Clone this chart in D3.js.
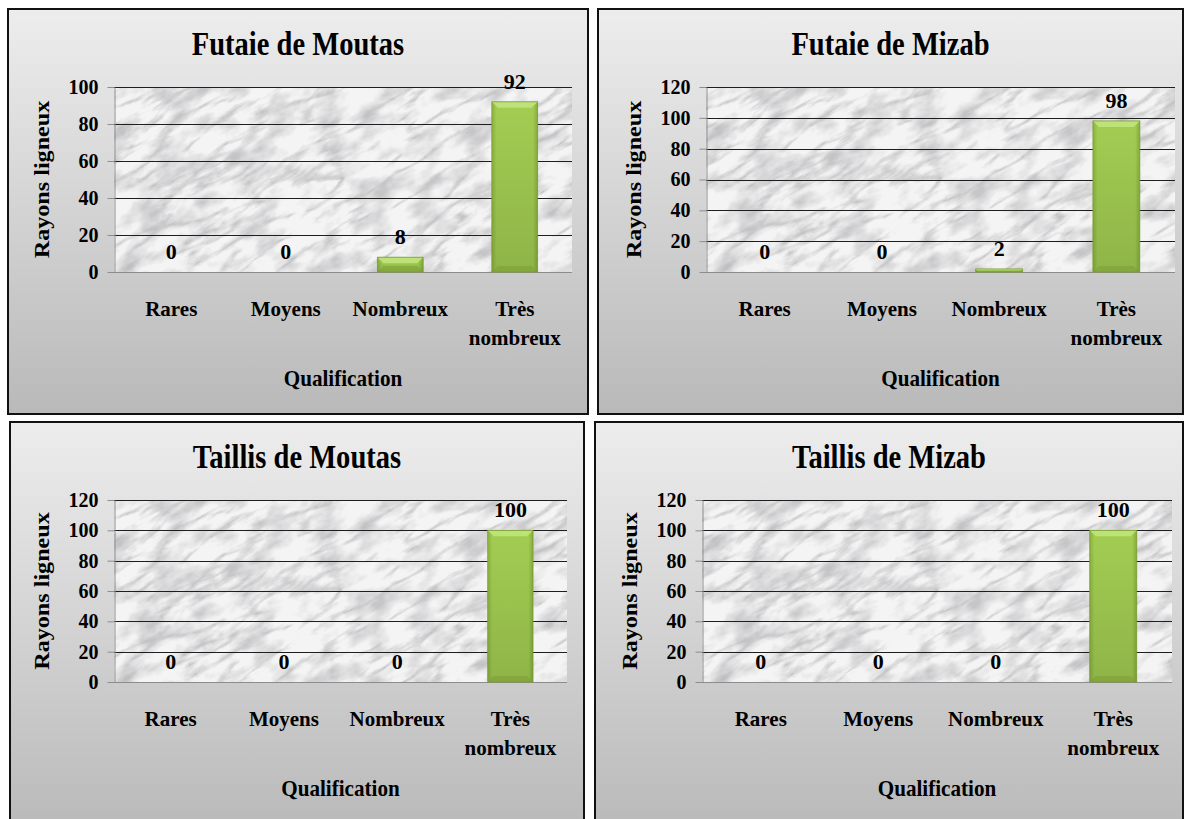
<!DOCTYPE html>
<html>
<head>
<meta charset="utf-8">
<script src="https://cdn.jsdelivr.net/npm/d3@7"></script>
<style>
  html, body { margin: 0; padding: 0; background: #fff; }
  svg { display: block; }
  text { font-family: "Liberation Serif", "Times New Roman", serif; font-weight: bold; fill: #000; }
</style>
</head>
<body>
<div id="chart"></div>
<script>
// --- data ---
const categories = ['Rares', 'Moyens', 'Nombreux', 'Très nombreux'];
const titles = ['Futaie de Moutas', 'Futaie de Mizab', 'Taillis de Moutas', 'Taillis de Mizab'];
const futaieMoutas = [0, 0, 8, 92];
const futaieMizab = [0, 0, 2, 98];
const taillisMoutas = [0, 0, 0, 100];
const taillisMizab = [0, 0, 0, 100];
const yMaxes = [100, 120, 120, 120];
const yStep = 20;
const yTitle = 'Rayons ligneux';
const xTitle = 'Qualification';

const W = 1186, H = 819;

// layout of the four panels (box = frame, plot = inner area)
const panels = [
  { box: [8, 9, 580, 405],    plot: { left: 114, right: 572, top: 87, bottom: 272 },  values: futaieMoutas },
  { box: [598, 9, 585, 405],  plot: { left: 706, right: 1175, top: 87, bottom: 272 }, values: futaieMizab },
  { box: [10, 422, 574, 410], plot: { left: 114, right: 567, top: 500, bottom: 682 }, values: taillisMoutas },
  { box: [595, 422, 588, 410],plot: { left: 702, right: 1172, top: 500, bottom: 682 }, values: taillisMizab }
];

const svg = d3.select('#chart').append('svg').attr('width', W).attr('height', H);
const defs = svg.append('defs');

// panel background
const bg = defs.append('linearGradient').attr('id', 'panelBg')
  .attr('x1', 0).attr('y1', 0).attr('x2', 0).attr('y2', 1);
bg.append('stop').attr('offset', '0%').attr('stop-color', '#ededed');
bg.append('stop').attr('offset', '100%').attr('stop-color', '#b9b9b9');

// bar gradients
const barGrad = defs.append('linearGradient').attr('id', 'barGrad')
  .attr('x1', 0).attr('y1', 0).attr('x2', 1).attr('y2', 0);
[['0%', '#8bb23e'], ['10%', '#a2cd52'], ['90%', '#a2cd52'], ['100%', '#86ad3b']].forEach(s => {
  barGrad.append('stop').attr('offset', s[0]).attr('stop-color', s[1]);
});
const barShade = defs.append('linearGradient').attr('id', 'barShade')
  .attr('x1', 0).attr('y1', 0).attr('x2', 0).attr('y2', 1);
barShade.append('stop').attr('offset', '0%').attr('stop-color', '#000').attr('stop-opacity', 0);
barShade.append('stop').attr('offset', '100%').attr('stop-color', '#000').attr('stop-opacity', 0.12);

// marble texture: soft grey clouds + thin veins
const mf = defs.append('filter').attr('id', 'marble')
  .attr('x', 0).attr('y', 0).attr('width', 1).attr('height', 1);
mf.append('feTurbulence').attr('type', 'fractalNoise')
  .attr('baseFrequency', '0.025 0.05').attr('numOctaves', 4).attr('seed', 3).attr('result', 'n1');
mf.append('feColorMatrix').attr('in', 'n1').attr('type', 'matrix')
  .attr('values', '0 0 0 0 0.5  0 0 0 0 0.5  0 0 0 0 0.52  2.6 0 0 0 -1.15').attr('result', 'clouds');
mf.append('feTurbulence').attr('type', 'turbulence')
  .attr('baseFrequency', '0.012 0.045').attr('numOctaves', 5).attr('seed', 11).attr('result', 'n2');
mf.append('feColorMatrix').attr('in', 'n2').attr('type', 'matrix')
  .attr('values', '0 0 0 0 0.42  0 0 0 0 0.42  0 0 0 0 0.44  -3.4 0 0 0 0.9').attr('result', 'veins');
const mm = mf.append('feMerge');
mm.append('feMergeNode').attr('in', 'clouds');
mm.append('feMergeNode').attr('in', 'veins');

function drawPanel(p, i) {
  const [bx, by, bw, bh] = p.box;
  const { left, right, top, bottom } = p.plot;
  const yMax = yMaxes[i];
  const g = svg.append('g');

  g.append('rect')
    .attr('x', bx).attr('y', by).attr('width', bw).attr('height', bh)
    .attr('fill', 'url(#panelBg)').attr('stroke', '#111').attr('stroke-width', 2);

  const x = d3.scaleBand().domain(categories).range([left, right])
    .paddingInner(0.6).paddingOuter(0.3);
  const y = d3.scaleLinear().domain([0, yMax]).range([bottom, top]);
  const ticks = d3.range(0, yMax + 1, yStep);

  // plot area (marble)
  defs.append('clipPath').attr('id', 'clip' + i)
    .append('rect').attr('x', left).attr('y', top).attr('width', right - left).attr('height', bottom - top);
  const area = g.append('g').attr('clip-path', `url(#clip${i})`);
  area.append('rect').attr('x', left).attr('y', top).attr('width', right - left).attr('height', bottom - top)
    .attr('fill', '#f4f4f4');
  area.append('g')
    .attr('transform', `translate(${(left + right) / 2},${(top + bottom) / 2}) rotate(-30)`)
    .append('rect').attr('x', -420).attr('y', -320).attr('width', 840).attr('height', 640)
    .attr('filter', 'url(#marble)').attr('opacity', 0.82);

  // gridlines
  g.append('g').selectAll('line').data(ticks.filter(t => t > 0)).join('line')
    .attr('x1', left).attr('x2', right)
    .attr('y1', d => Math.round(y(d)) + 0.5).attr('y2', d => Math.round(y(d)) + 0.5)
    .attr('stroke', '#1e1e1e').attr('stroke-width', 1);
  g.append('line')
    .attr('x1', left).attr('x2', right)
    .attr('y1', Math.round(y(0)) + 0.5).attr('y2', Math.round(y(0)) + 0.5)
    .attr('stroke', '#8c8c8c');

  // y axis
  const ax = g.append('g').attr('transform', `translate(${left + 0.5},0)`)
    .call(d3.axisLeft(y).tickValues(ticks).tickSize(7).tickSizeOuter(0).tickPadding(9));
  ax.select('.domain').attr('stroke', '#8c8c8c');
  ax.selectAll('.tick line').attr('stroke', '#8c8c8c');
  ax.selectAll('.tick text')
    .style('font-family', '"Liberation Serif", "Times New Roman", serif')
    .style('font-weight', 'bold').style('font-size', '20px').attr('fill', '#000');

  // bars
  const rows = categories.map((c, k) => ({ cat: c, v: p.values[k] }));
  rows.filter(d => d.v > 0).forEach(d => {
    const x0 = x(d.cat), w = x.bandwidth();
    const y0 = y(d.v), y1 = y(0), h = y1 - y0;
    const b = Math.min(6, h / 2, w / 4);
    const bar = g.append('g');
    bar.append('rect').attr('x', x0).attr('y', y0).attr('width', w).attr('height', h)
      .attr('fill', 'url(#barGrad)');
    bar.append('rect').attr('x', x0).attr('y', y0).attr('width', w).attr('height', h)
      .attr('fill', 'url(#barShade)');
    bar.append('polygon')
      .attr('points', [[x0, y0], [x0 + w, y0], [x0 + w - b, y0 + b], [x0 + b, y0 + b]].join(' '))
      .attr('fill', '#bde277');
    bar.append('polygon')
      .attr('points', [[x0, y1], [x0 + w, y1], [x0 + w - b, y1 - b], [x0 + b, y1 - b]].join(' '))
      .attr('fill', '#789a30').attr('opacity', 0.45);
    bar.append('rect').attr('x', x0).attr('y', y0).attr('width', w).attr('height', h)
      .attr('fill', 'none').attr('stroke', '#7a9c33').attr('stroke-width', 0.8);
  });

  // value labels
  g.append('g').selectAll('text').data(rows).join('text')
    .attr('x', d => x(d.cat) + x.bandwidth() / 2)
    .attr('y', d => y(d.v) - 13)
    .attr('text-anchor', 'middle').style('font-size', '22px')
    .text(d => d.v);

  // category labels
  const cl = g.append('g').selectAll('text').data(categories).join('text')
    .attr('text-anchor', 'middle').style('font-size', '21px')
    .attr('transform', d => `translate(${x(d) + x.bandwidth() / 2},${bottom + 44})`);
  cl.each(function (d) {
    const parts = d.length > 10 ? d.split(' ') : [d];
    d3.select(this).selectAll('tspan').data(parts).join('tspan')
      .attr('x', 0).attr('y', (s, k) => k * 29).text(s => s);
  });

  // titles
  g.append('text')
    .attr('transform', `translate(${bx + bw / 2},${by + 46}) scale(0.84,1)`)
    .attr('text-anchor', 'middle').style('font-size', '34px')
    .text(titles[i]);

  g.append('text')
    .attr('transform', `translate(${(left + right) / 2},${bottom + 114}) scale(0.92,1)`)
    .attr('text-anchor', 'middle').style('font-size', '23px')
    .text(xTitle);

  g.append('text')
    .attr('transform', `translate(${left - 65},${(top + bottom) / 2}) rotate(-90) scale(1.15,1)`)
    .attr('text-anchor', 'middle').style('font-size', '21px')
    .text(yTitle);
}

panels.forEach(drawPanel);
</script>
</body>
</html>
